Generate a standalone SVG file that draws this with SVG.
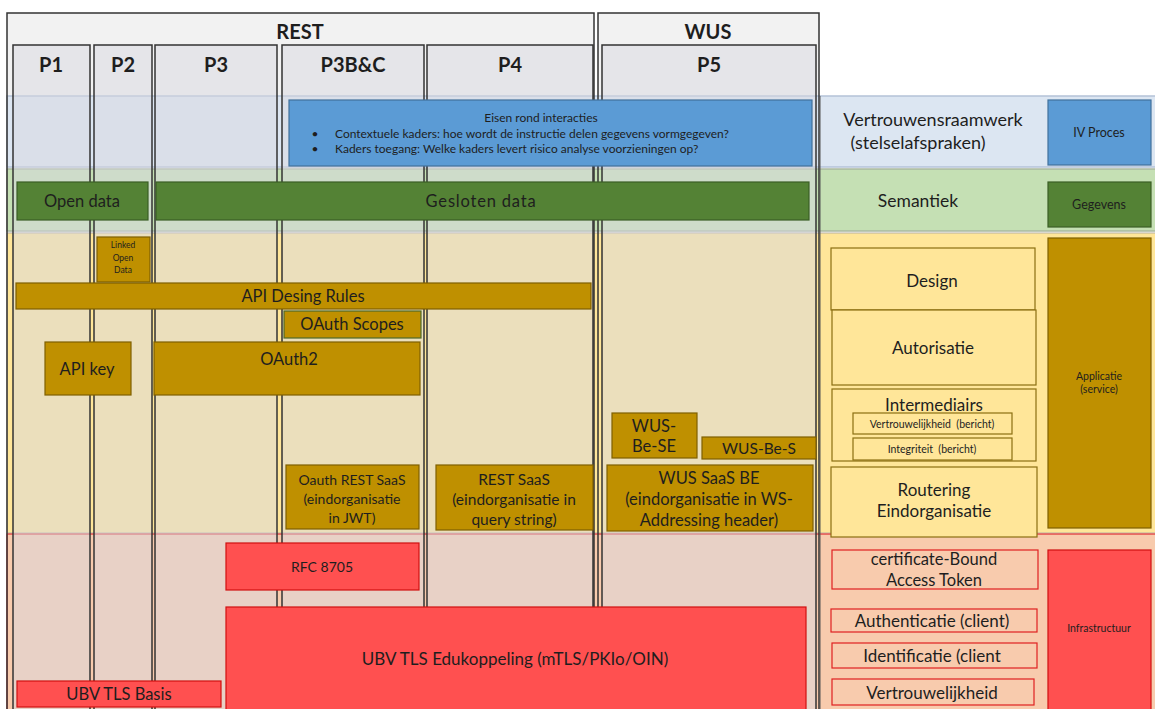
<svg xmlns="http://www.w3.org/2000/svg" width="1155" height="709" viewBox="0 0 1155 709">
<style>
text{font-family:Lato,"Liberation Sans",sans-serif;fill:#1e1e1e;text-anchor:middle}
.hdr{font-weight:bold;font-size:20px}
.col{fill:#d8d8e0;fill-opacity:0.5;stroke:#333;stroke-width:1.5}
.outer{fill:none;stroke:#333;stroke-width:1.5}
.blue{fill:#5b9bd5;stroke:#41719c;stroke-width:1.2}
.green{fill:#548235;stroke:#3b5e25;stroke-width:1.2}
.gold{fill:#bf9000;stroke:#7f6000;stroke-width:1.2}
.red{fill:#ff5050;stroke:#d01010;stroke-width:1.2}
.ylw{fill:#ffe699;stroke:#8b6f12;stroke-width:1.2}
.pch{fill:#f8cbad;stroke:#e02020;stroke-width:1.2}
.t16{font-size:16.5px}
.t17{font-size:17px}
.t15{font-size:15.5px}
.t14{font-size:14px}
.t12{font-size:12px}
</style>
<rect width="1155" height="709" fill="#ffffff"/>
<g id="frames">
<rect x="7" y="13" width="587" height="710" fill="#f2f2f2"/>
<rect x="598" y="13" width="221" height="710" fill="#f2f2f2"/>
</g>
<g id="bands">
<rect x="7" y="96" width="1150" height="71" fill="#dce6f2" stroke="#b4c2d8" stroke-width="1.5"/>
<rect x="7" y="169" width="1150" height="62" fill="#c5e0b4" stroke="#a9b8a0" stroke-width="1.5"/>
<rect x="7" y="233" width="1150" height="300" fill="#ffe699" stroke="#b8b0a0" stroke-width="1"/>
<rect x="7" y="534" width="1150" height="180" fill="#f8cbad" stroke="#e03030" stroke-width="1.2"/>
</g>
<g id="columns">
<rect class="col" x="13" y="45" width="77" height="680"/>
<rect class="col" x="94" y="45" width="58" height="680"/>
<rect class="col" x="155" y="45" width="122" height="680"/>
<rect class="col" x="282" y="45" width="142" height="680"/>
<rect class="col" x="427" y="45" width="166" height="680"/>
<rect class="col" x="602" y="45" width="214" height="680"/>
<rect class="outer" x="7" y="13" width="587" height="710"/>
<rect class="outer" x="598" y="13" width="221" height="710"/>
<line x1="820" y1="96" x2="820" y2="709" stroke="#555" stroke-width="1"/>
</g>
<g id="headers">
<text class="hdr" x="300" y="39">REST</text>
<text class="hdr" x="708" y="39">WUS</text>
<text class="hdr" x="51" y="72">P1</text>
<text class="hdr" x="123" y="72">P2</text>
<text class="hdr" x="216" y="72">P3</text>
<text class="hdr" x="353" y="72">P3B&amp;C</text>
<text class="hdr" x="510" y="72">P4</text>
<text class="hdr" x="709" y="72">P5</text>
</g>
<g id="interacties">
<rect class="blue" x="289" y="100" width="523" height="66"/>
<text class="t12" x="541" y="122">Eisen rond interacties</text>
<text class="t12" x="315" y="138">•</text>
<text class="t12" x="315" y="153">•</text>
<text class="t12" x="335" y="138" style="text-anchor:start">Contextuele kaders: hoe wordt de instructie delen gegevens vormgegeven?</text>
<text class="t12" x="335" y="153" style="text-anchor:start">Kaders toegang: Welke kaders levert risico analyse voorzieningen op?</text>
</g>
<g id="open-data"><rect class="green" x="17" y="182" width="131" height="38"/><text class="t16" x="82" y="207">Open data</text></g>
<g id="gesloten-data"><rect class="green" x="156" y="182" width="653" height="38"/><text class="t16" x="481" y="207" style="letter-spacing:0.8px">Gesloten data</text></g>
<g id="linked-open-data"><rect class="gold" x="97" y="237" width="53" height="45"/>
<text x="123" y="248" style="font-size:8.5px">Linked</text><text x="123" y="261" style="font-size:8.5px">Open</text><text x="123" y="273" style="font-size:8.5px">Data</text></g>
<g id="api-design-rules"><rect class="gold" x="16" y="283" width="575" height="26"/><text class="t16" x="303" y="302">API Desing Rules</text></g>
<g id="oauth-scopes"><rect class="gold" x="284" y="311" width="137" height="27" style="stroke:#4f6a2a"/><text class="t16" x="352" y="330">OAuth Scopes</text></g>
<g id="api-key"><rect class="gold" x="45" y="342" width="86" height="53"/><text class="t16" x="87" y="375">API key</text></g>
<g id="oauth2"><rect class="gold" x="154" y="342" width="266" height="53"/><text class="t16" x="289" y="365">OAuth2</text></g>
<g id="oauth-rest-saas"><rect class="gold" x="286" y="465" width="133" height="64"/>
<text class="t14" x="352" y="485">Oauth REST SaaS</text><text class="t14" x="352" y="504">(eindorganisatie</text><text class="t14" x="352" y="523">in JWT)</text></g>
<g id="rest-saas"><rect class="gold" x="436" y="465" width="157" height="65"/>
<text class="t15" x="514" y="485">REST SaaS</text><text class="t15" x="514" y="505">(eindorganisatie in</text><text class="t15" x="514" y="525">query string)</text></g>
<g id="wus-be-se"><rect class="gold" x="612" y="413" width="85" height="45"/>
<text class="t16" x="654" y="432">WUS-</text><text class="t16" x="654" y="452">Be-SE</text></g>
<g id="wus-be-s"><rect class="gold" x="702" y="437" width="114" height="22"/><text class="t15" x="759" y="454">WUS-Be-S</text></g>
<g id="wus-saas-be"><rect class="gold" x="607" y="465" width="206" height="66"/>
<text class="t16" x="709" y="484">WUS  SaaS BE</text><text class="t16" x="709" y="505">(eindorganisatie in WS-</text><text class="t16" x="709" y="526">Addressing header)</text></g>
<g id="rfc-8705"><rect class="red" x="226" y="543" width="193" height="47"/><text class="t14" x="322" y="572">RFC 8705</text></g>
<g id="ubv-tls-edukoppeling"><rect class="red" x="226" y="607" width="580" height="110"/><text class="t17" x="515" y="665">UBV TLS Edukoppeling (mTLS/PKIo/OIN)</text></g>
<g id="ubv-tls-basis"><rect class="red" x="17" y="681" width="204" height="26"/><text class="t16" x="119" y="700">UBV TLS Basis</text></g>
<g id="vertrouwensraamwerk"><text style="font-size:18px" x="933" y="126">Vertrouwensraamwerk</text><text style="font-size:18px" x="918" y="149">(stelselafspraken)</text></g>
<g id="iv-proces"><rect class="blue" x="1048" y="100" width="103" height="65"/><text style="font-size:12.5px" x="1099" y="137">IV Proces</text></g>
<g id="semantiek"><text style="font-size:17.5px" x="918" y="207">Semantiek</text></g>
<g id="gegevens"><rect class="green" x="1048" y="182" width="103" height="45"/><text style="font-size:12.5px" x="1099" y="209">Gegevens</text></g>
<g id="applicatie"><rect class="gold" x="1048" y="238" width="103" height="290"/><text style="font-size:10.5px" x="1099" y="380">Applicatie</text><text style="font-size:10.5px" x="1099" y="393">(service)</text></g>
<g id="design"><rect class="ylw" x="831" y="248" width="204" height="62"/><text class="t17" x="932" y="287">Design</text></g>
<g id="autorisatie"><rect class="ylw" x="832" y="310" width="204" height="75"/><text class="t17" x="933" y="354">Autorisatie</text></g>
<g id="intermediairs"><rect class="ylw" x="832" y="389" width="204" height="72"/><text class="t17" x="934" y="411">Intermediairs</text>
<rect class="ylw" x="853" y="413" width="159" height="21"/><text style="font-size:10.5px" x="932" y="428" xml:space="preserve">Vertrouwelijkheid  (bericht)</text>
<rect class="ylw" x="853" y="438" width="159" height="22"/><text style="font-size:10.5px" x="932" y="453" xml:space="preserve">Integriteit  (bericht)</text></g>
<g id="routering"><rect class="ylw" x="831" y="467" width="206" height="70"/><text class="t17" x="934" y="496">Routering</text><text class="t17" x="934" y="517">Eindorganisatie</text></g>
<g id="infrastructuur"><rect class="red" x="1048" y="550" width="103" height="165"/><text style="font-size:10.5px" x="1099" y="632">Infrastructuur</text></g>
<g id="cbat"><rect class="pch" x="832" y="550" width="206" height="39"/><text class="t16" x="934" y="565">certificate-Bound</text><text class="t16" x="934" y="586">Access Token</text></g>
<g id="authenticatie"><rect class="pch" x="831" y="609" width="206" height="23"/><text class="t17" x="932" y="627">Authenticatie (client)</text></g>
<g id="identificatie"><rect class="pch" x="832" y="643" width="205" height="25"/><text class="t17" x="932" y="662">Identificatie (client</text></g>
<g id="vertrouwelijkheid"><rect class="pch" x="832" y="679" width="202" height="26"/><text class="t17" x="932" y="699">Vertrouwelijkheid</text></g>
</svg>
